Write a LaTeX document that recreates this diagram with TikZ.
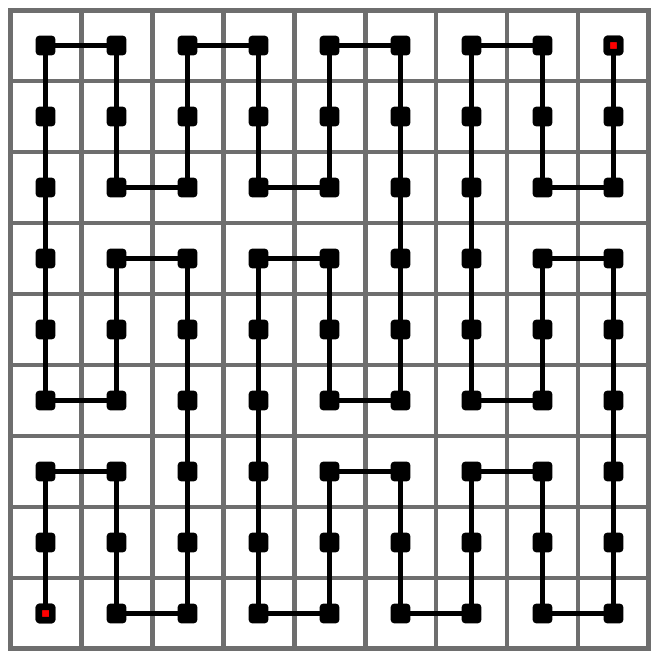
\documentclass[tikz,border=0pt]{standalone}
\usepackage{tikz}
\usepackage{xcolor}
\usetikzlibrary{positioning}
\definecolor{gridgray}{HTML}{6E6E6E}
\definecolor{dotred}  {HTML}{FF0000}
\tikzset{
  cellgrid/.style={gridgray,line width=2pt},
  pt/.style={rectangle,fill=black,minimum size=8pt,inner sep=0pt,rounded corners=1.6pt},
  endpt/.style={rectangle,fill=dotred,draw=black,line width=2.6pt,minimum size=5.4pt,inner sep=0pt,rounded corners=0.6pt},
  curve/.style={black,line width=2pt,line join=round}
}

\begin{document}
\begin{tikzpicture}[x=1cm,y=1cm]
        \useasboundingbox (-0.141,-0.155) rectangle (9.155,9.141);
        \draw[cellgrid] (0,0) grid (9,9);
        \draw[cellgrid] (0,0) rectangle (9,9);

        % one point per cell
        \foreach \c in {0,...,8} {
          \foreach \r in {0,...,8} {
            \node[pt] (p-\c-\r) at (\c+0.5,\r+0.5) {};
          }
        }
        \node[endpt] (start) at (p-0-0) {};
        \node[endpt] (stop) at (p-8-8) {};

        % the curve, through its turning points
        \draw[curve] (start) -- (p-0-2.center) -- (p-1-2.center) -- (p-1-0.center)
          -- (p-2-0.center) -- (p-2-5.center) -- (p-1-5.center) -- (p-1-3.center)
          -- (p-0-3.center) -- (p-0-8.center) -- (p-1-8.center) -- (p-1-6.center)
          -- (p-2-6.center) -- (p-2-8.center) -- (p-3-8.center) -- (p-3-6.center)
          -- (p-4-6.center) -- (p-4-8.center) -- (p-5-8.center) -- (p-5-3.center)
          -- (p-4-3.center) -- (p-4-5.center) -- (p-3-5.center) -- (p-3-0.center)
          -- (p-4-0.center) -- (p-4-2.center) -- (p-5-2.center) -- (p-5-0.center)
          -- (p-6-0.center) -- (p-6-2.center) -- (p-7-2.center) -- (p-7-0.center)
          -- (p-8-0.center) -- (p-8-5.center) -- (p-7-5.center) -- (p-7-3.center)
          -- (p-6-3.center) -- (p-6-8.center) -- (p-7-8.center) -- (p-7-6.center)
          -- (p-8-6.center) -- (stop);
      \end{tikzpicture}
\end{document}
